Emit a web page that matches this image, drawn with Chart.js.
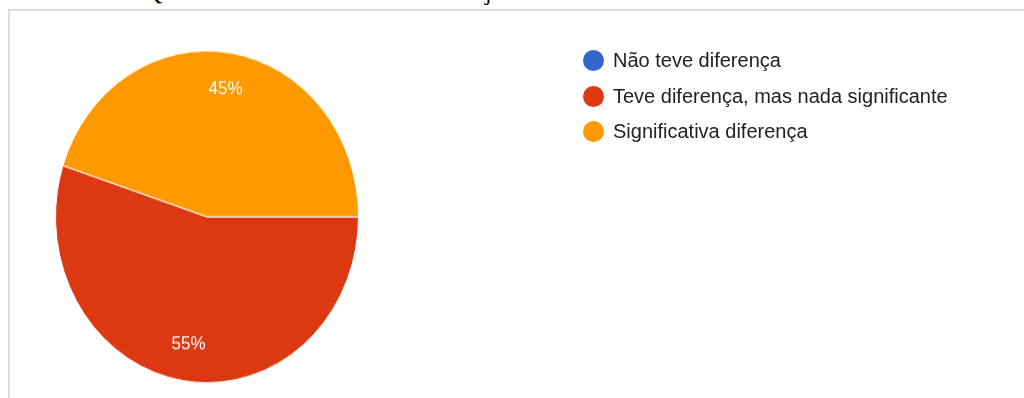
<!DOCTYPE html>
<html>
<head>
<meta charset="utf-8">
<script src="https://cdn.jsdelivr.net/npm/chart.js@4"></script>
<style>
    html, body { margin: 0; padding: 0; background: #fff; }
    body { width: 1024px; height: 398px; position: relative; overflow: hidden; }
    .frame {
        position: absolute; left: 8px; top: 9px; right: -4px; bottom: -4px;
        border-top: 2px solid #dcdcdc; border-left: 2px solid #dcdcdc;
    }
    .title {
        position: absolute; top: -20px; font-family: "Liberation Serif", serif;
        font-size: 24px; line-height: 1; color: #000;
    }
    #pieCanvas {
        position: absolute; left: 0; top: 0;
        transform-origin: 0 0; transform: scaleY(1.095);
    }
    #legend {
        position: absolute; left: 583px; top: 43px;
        font-family: "Liberation Sans", Arial, sans-serif; font-size: 20px; color: #222;
    }
    .legend-row { display: flex; align-items: center; height: 35.5px; }
    .legend-dot { width: 21px; height: 21px; border-radius: 50%; margin-right: 9px; }
</style>
</head>
<body>
<div class="frame"></div>
<span class="title" style="left:145px">Q</span>
<span class="title" style="left:485px">j</span>
<canvas id="pieCanvas" width="1024" height="364"></canvas>
<div id="legend"></div>
<script>
const labels = ['Não teve diferença', 'Teve diferença, mas nada significante', 'Significativa diferença'];
const values = [0, 55, 45];
const colors = ['#3366cc', '#dc3912', '#ff9900'];

// percentage text inside each slice
const sliceLabels = {
    id: 'sliceLabels',
    afterDatasetsDraw(chart) {
        const ctx = chart.ctx;
        const meta = chart.getDatasetMeta(0);
        ctx.save();
        ctx.font = '17px "Liberation Sans", Arial, sans-serif';
        ctx.fillStyle = '#fff';
        ctx.textAlign = 'center';
        ctx.textBaseline = 'middle';
        meta.data.forEach((arc, i) => {
            if (!values[i]) return;
            const p = arc.getProps(['x', 'y', 'startAngle', 'endAngle', 'outerRadius']);
            const mid = (p.startAngle + p.endAngle) / 2;
            const r = p.outerRadius * 0.78;
            ctx.fillText(values[i] + '%', p.x + Math.cos(mid) * r, p.y + Math.sin(mid) * r);
        });
        ctx.restore();
    }
};

new Chart(document.getElementById('pieCanvas').getContext('2d'), {
    type: 'pie',
    data: {
        labels: labels,
        datasets: [{
            data: values,
            backgroundColor: colors,
            borderColor: '#fff',
            borderWidth: 1
        }]
    },
    options: {
        responsive: false,
        maintainAspectRatio: false,
        animation: false,
        rotation: 90,
        layout: { padding: { left: 55, right: 665, top: 46, bottom: 14 } },
        plugins: {
            legend: { display: false },
            tooltip: { enabled: false }
        }
    },
    plugins: [sliceLabels]
});

// legend rows built from the same arrays
const legend = document.getElementById('legend');
legend.innerHTML = labels.map((label, i) => `
    <div class="legend-row">
        <span class="legend-dot" style="background:${colors[i]}"></span>
        <span>${label}</span>
    </div>
`).join('');
</script>
</body>
</html>
